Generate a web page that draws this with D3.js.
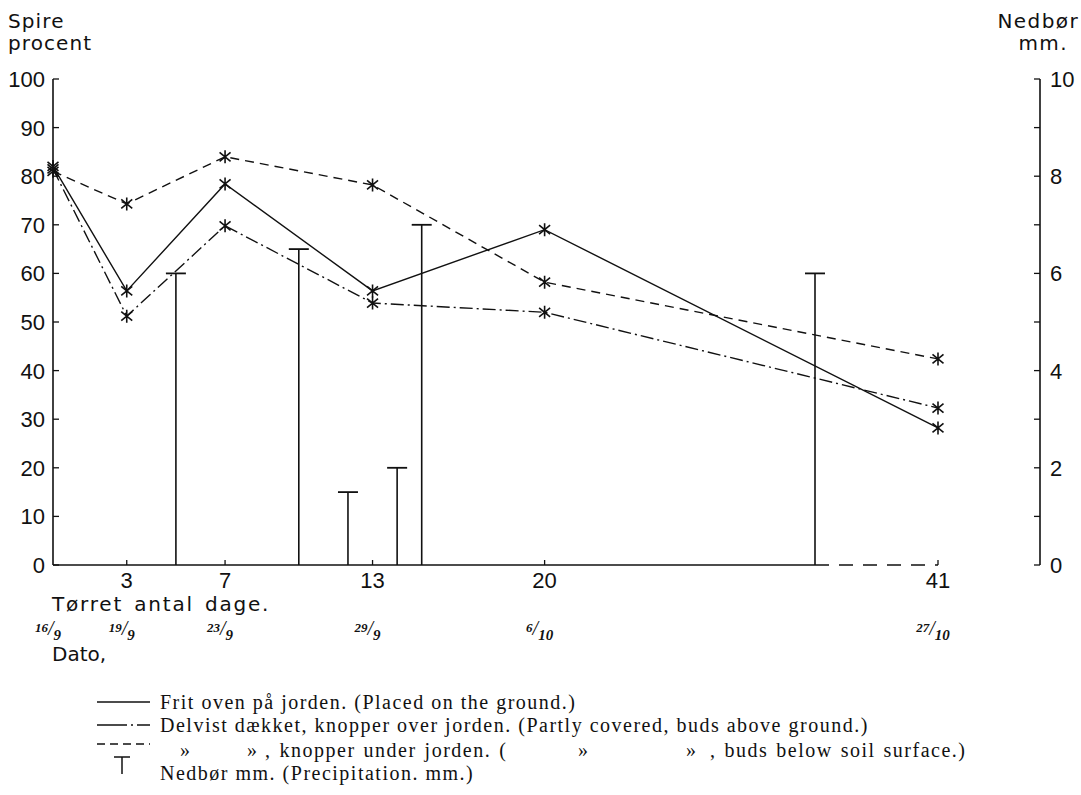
<!DOCTYPE html>
<html>
<head>
<meta charset="utf-8">
<script src="https://cdn.jsdelivr.net/npm/d3@7"></script>
<style>
  html, body { margin: 0; padding: 0; background: #fff; }
  svg { display: block; }
</style>
</head>
<body>
<svg id="chart" width="1081" height="795"></svg>
<script>
// ---- data ----
const days = [0, 3, 7, 13, 20, 41];
const dayTicks = [3, 7, 13, 20, 41];
const dateNum = ["16", "19", "23", "29", "6", "27"];
const dateDen = ["9", "9", "9", "9", "10", "10"];
const fritValues = [82, 56.4, 78.4, 56.4, 69, 28.2];          // solid
const delvistOverValues = [81.5, 51.2, 69.8, 53.9, 52, 32.3];  // dash-dot
const delvistUnderValues = [81, 74.3, 84, 78.2, 58.2, 42.4];   // dashed
const precipDays = [5, 10, 12, 14, 15, 31];
const precipValues = [6, 6.5, 1.5, 2, 7, 6];
const leftTicks = [0, 10, 20, 30, 40, 50, 60, 70, 80, 90, 100];
const rightTicks = [0, 1, 2, 3, 4, 5, 6, 7, 8, 9, 10];
const rightLabels = [0, 2, 4, 6, 8, 10];
const legendLabels = [
  "Frit oven på jorden. (Placed on the ground.)",
  "Delvist dækket, knopper over jorden. (Partly covered, buds above ground.)",
  null,
  "Nedbør mm. (Precipitation. mm.)"
];

// ---- layout ----
const svg = d3.select("#chart");
const sansFont = "'DejaVu Sans', 'Liberation Sans', sans-serif";
const numFont = "'Liberation Sans', Arial, sans-serif";
const serifFont = "'Liberation Serif', 'Times New Roman', serif";
const ink = "#111";

// broken x axis: linear up to day 31, compressed after
const x = d3.scaleLinear().domain([0, 31, 41]).range([53, 815, 938]);
const yL = d3.scaleLinear().domain([0, 100]).range([565, 79]);
const yR = d3.scaleLinear().domain([0, 10]).range([565, 79]);

const g = svg.append("g");

// left axis
g.append("line").attr("x1", x(0)).attr("x2", x(0)).attr("y1", yL(100)).attr("y2", yL(0))
  .attr("stroke", ink).attr("stroke-width", 1.6);
g.selectAll(".lt").data(leftTicks).enter().append("line")
  .attr("x1", x(0)).attr("x2", x(0) + 6)
  .attr("y1", d => yL(d)).attr("y2", d => yL(d))
  .attr("stroke", ink).attr("stroke-width", 1.3);
g.selectAll(".ll").data(leftTicks).enter().append("text")
  .attr("x", 45).attr("y", d => yL(d)).attr("dy", "0.36em")
  .attr("text-anchor", "end").attr("font-family", numFont).attr("font-size", 22)
  .attr("fill", ink).text(d => d);

// right axis
const xr = 1040;
g.append("line").attr("x1", xr).attr("x2", xr).attr("y1", yR(10)).attr("y2", yR(0))
  .attr("stroke", ink).attr("stroke-width", 1.6);
g.selectAll(".rt").data(rightTicks).enter().append("line")
  .attr("x1", xr - 6).attr("x2", xr)
  .attr("y1", d => yR(d)).attr("y2", d => yR(d))
  .attr("stroke", ink).attr("stroke-width", 1.3);
g.selectAll(".rl").data(rightLabels).enter().append("text")
  .attr("x", 1050).attr("y", d => yR(d)).attr("dy", "0.36em")
  .attr("font-family", numFont).attr("font-size", 22).attr("fill", ink).text(d => d);

// x axis: solid to day 31, dashed after (axis break)
g.append("line").attr("x1", x(0)).attr("x2", x(31)).attr("y1", yL(0)).attr("y2", yL(0))
  .attr("stroke", ink).attr("stroke-width", 1.6);
g.append("line").attr("x1", x(31)).attr("x2", x(41)).attr("y1", yL(0)).attr("y2", yL(0))
  .attr("stroke", ink).attr("stroke-width", 1.6).attr("stroke-dasharray", "14,10");
g.selectAll(".xt").data(dayTicks).enter().append("line")
  .attr("x1", d => x(d)).attr("x2", d => x(d))
  .attr("y1", yL(0)).attr("y2", yL(0) - 5)
  .attr("stroke", ink).attr("stroke-width", 1.3);
g.selectAll(".xl").data(dayTicks).enter().append("text")
  .attr("x", d => x(d)).attr("y", yL(0) + 15).attr("dy", "0.36em")
  .attr("text-anchor", "middle").attr("font-family", numFont).attr("font-size", 22)
  .attr("fill", ink).text(d => d);

// text helper
const txt = (xx, yy, s, opts = {}) => g.append("text").attr("x", xx).attr("y", yy)
  .attr("font-family", opts.font || sansFont).attr("font-size", opts.size || 19)
  .attr("letter-spacing", opts.ls || 0).attr("word-spacing", opts.ws || 0)
  .attr("fill", ink).attr("text-anchor", opts.anchor || "start").text(s);
txt(8, 28, "Spire", { size: 20, ls: 1.1 });
txt(8, 50, "procent", { size: 20, ls: 1.1 });
txt(1079, 28, "Nedbør", { anchor: "end", size: 20, ls: 1.4 });
txt(1068, 50, "mm.", { anchor: "end", size: 20, ls: 1.4 });
txt(52, 611, "Tørret antal dage.", { size: 20, ls: 1.8, ws: 3 });
txt(52, 661, "Dato,", { size: 20 });

// date fractions
const dates = g.selectAll(".dt").data(days).enter().append("text")
  .attr("x", (d, i) => x(d) - 5).attr("y", 638)
  .attr("text-anchor", "middle").attr("font-family", serifFont)
  .attr("font-style", "italic").attr("fill", ink);
dates.append("tspan").attr("font-size", 13).attr("font-weight", "bold").attr("dy", -6)
  .text((d, i) => dateNum[i]);
dates.append("tspan").attr("font-size", 20).attr("dy", 3).text("/");
dates.append("tspan").attr("font-size", 15).attr("font-weight", "bold").attr("dy", 5)
  .text((d, i) => dateDen[i]);

// precipitation T-bars
const bars = g.selectAll(".bar").data(precipDays).enter().append("g");
bars.append("line")
  .attr("x1", d => x(d)).attr("x2", d => x(d))
  .attr("y1", yR(0)).attr("y2", (d, i) => yR(precipValues[i]))
  .attr("stroke", ink).attr("stroke-width", 1.6);
bars.append("line")
  .attr("x1", d => x(d) - 10).attr("x2", d => x(d) + 10)
  .attr("y1", (d, i) => yR(precipValues[i])).attr("y2", (d, i) => yR(precipValues[i]))
  .attr("stroke", ink).attr("stroke-width", 1.8);

// series lines
const series = [
  { values: fritValues, dash: null },
  { values: delvistOverValues, dash: "13,4,2,4" },
  { values: delvistUnderValues, dash: "9,6" }
];
const line = d3.line().x(d => x(d[0])).y(d => yL(d[1]));
series.forEach(s => {
  const pts = days.map((d, i) => [d, s.values[i]]);
  g.append("path").attr("d", line(pts)).attr("fill", "none")
    .attr("stroke", ink).attr("stroke-width", 1.4)
    .attr("stroke-dasharray", s.dash);
  // asterisk markers
  const m = g.selectAll(null).data(pts).enter().append("g")
    .attr("transform", d => `translate(${x(d[0])},${yL(d[1])})`);
  m.append("path").attr("d", "M-5.5,-4.5L5.5,4.5M-5.5,4.5L5.5,-4.5M0,-6.5L0,6.5")
    .attr("stroke", ink).attr("stroke-width", 1.6).attr("fill", "none");
});

// legend
const legY = [702, 725, 744];
const legTextY = [709, 732, 757, 780];
const lx1 = 97, lx2 = 150;
g.append("line").attr("x1", lx1).attr("x2", lx2).attr("y1", legY[0]).attr("y2", legY[0])
  .attr("stroke", ink).attr("stroke-width", 1.4);
g.append("line").attr("x1", lx1).attr("x2", lx2).attr("y1", legY[1]).attr("y2", legY[1])
  .attr("stroke", ink).attr("stroke-width", 1.4).attr("stroke-dasharray", "30,4,2,4,13");
g.append("line").attr("x1", lx1).attr("x2", lx2).attr("y1", legY[2]).attr("y2", legY[2])
  .attr("stroke", ink).attr("stroke-width", 1.4).attr("stroke-dasharray", "8,5");
g.append("line").attr("x1", 122).attr("x2", 122).attr("y1", 757).attr("y2", 774)
  .attr("stroke", ink).attr("stroke-width", 1.5);
g.append("line").attr("x1", 114).attr("x2", 130).attr("y1", 757).attr("y2", 757)
  .attr("stroke", ink).attr("stroke-width", 1.5);

const legOpts = { font: serifFont, size: 20, ls: 1.5 };
legendLabels.forEach((s, i) => {
  if (s) txt(160, legTextY[i], s, legOpts);
});
// third legend row with ditto marks
const row3 = [
  [180, "»"], [247, "»"], [265, ", knopper under jorden. ("], [578, "»"],
  [686, "»"], [710, ", buds below soil surface.)"]
];
row3.forEach(r => txt(r[0], legTextY[2], r[1], Object.assign({}, legOpts, { ws: 1.5 })));
</script>
</body>
</html>
